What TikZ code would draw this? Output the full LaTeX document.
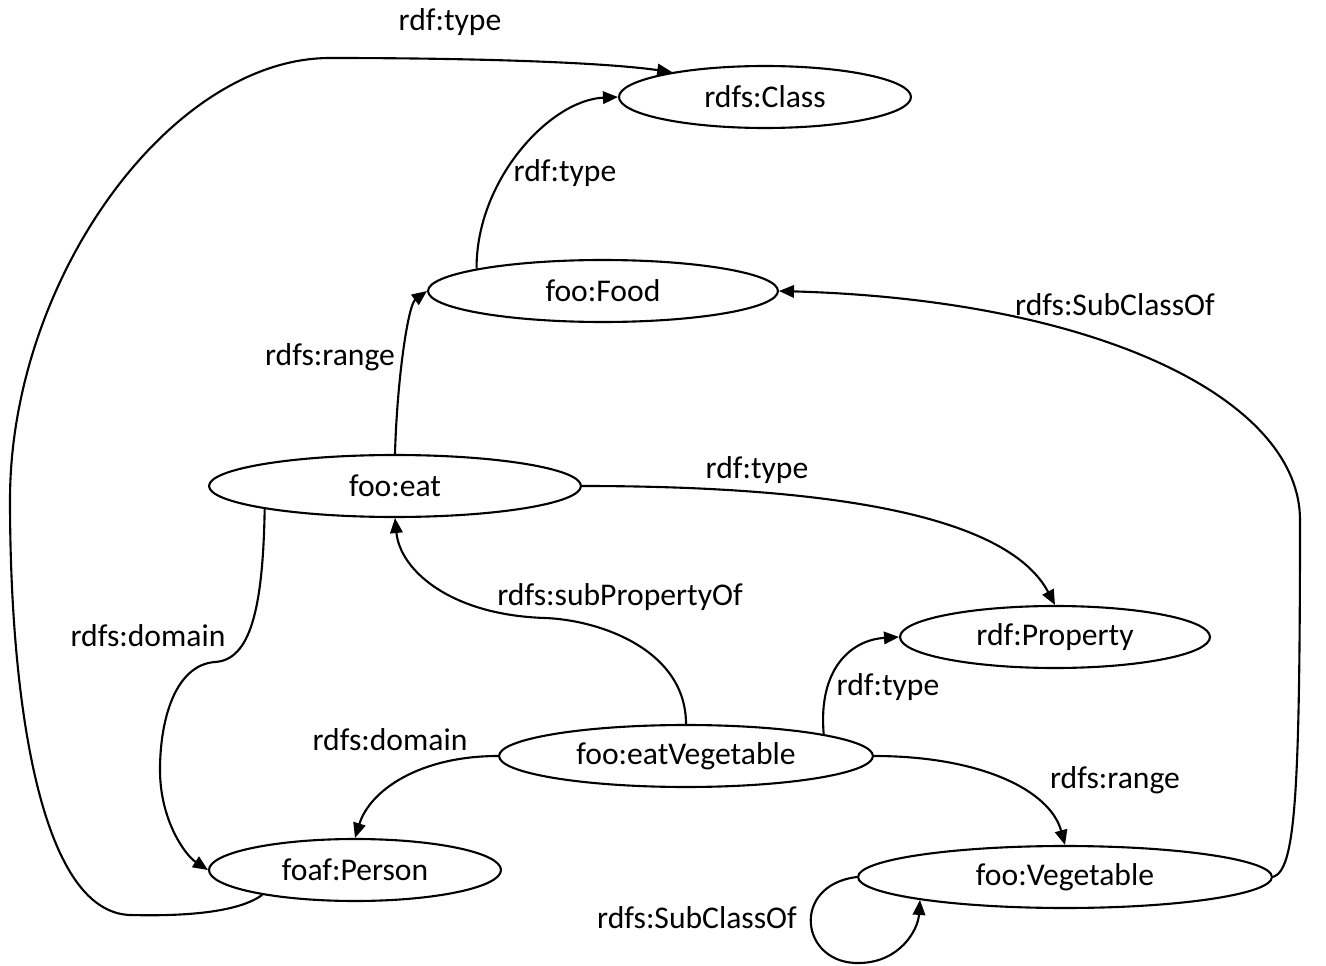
\documentclass[tikz,border=0pt]{standalone}
\usepackage{fontspec}
\setmainfont{Carlito}
\usetikzlibrary{shapes.geometric,arrows.meta}
\begin{document}
\begin{tikzpicture}
[x=0.02cm, y=-0.02cm, line width=1.2pt, >={Triangle[length=0.3cm,width=0.25cm]},
 res/.style={ellipse, draw, inner sep=0pt, minimum height=1.24cm, font=\fontsize{18}{21}\selectfont},
 lbl/.style={inner sep=1pt, font=\fontsize{18}{21}\selectfont}]
\useasboundingbox (0,0) rectangle (1326,966);
\node[res, minimum width=5.84cm] (RC) at (765,97) {rdfs:Class};
\node[res, minimum width=7cm] (FF) at (603,291) {foo:Food};
\node[res, minimum width=7.44cm] (FE) at (395,486) {foo:eat};
\node[res, minimum width=6.2cm] (RP) at (1055,637) {rdf:Property};
\node[res, minimum width=7.48cm] (FEV) at (686,756) {foo:eatVegetable};
\node[res, minimum width=5.84cm] (FP) at (355,870) {foaf:Person};
\node[res, minimum width=8.28cm] (FV) at (1065,877) {foo:Vegetable};

% labels
\node[lbl] (L1) at (450,22) {rdf:type};
\node[lbl] (L2) at (565,173) {rdf:type};
\node[lbl] (L3) at (330,357) {rdfs:range};
\node[lbl] (L4) at (757,470) {rdf:type};
\node[lbl] (L5) at (148,636) {rdfs:domain};
\node[lbl] (L6) at (620,597) {rdfs:subPropertyOf};
\node[lbl] (L7) at (888,687) {rdf:type};
\node[lbl] (L8) at (390,740) {rdfs:domain};
\node[lbl] (L9) at (1115,780) {rdfs:range};
\node[lbl] (L10) at (1115,305) {rdfs:SubClassOf};
\node[lbl] (L11) at (697,918) {rdfs:SubClassOf};

\draw[->] (FP.195) .. controls (235,915) and (170,916) .. (130,915)
  .. controls (40,912) and (10,700) .. (10,500)
  .. controls (10,280) and (170,58) .. (330,58)
  .. controls (470,58) and (600,62) .. (RC.165);
\draw[->] (FF.170) .. controls (476,180) and (550,100) .. (RC.west);
\draw[->] (FE.north) .. controls (397,380) and (408,305) .. (FF.west);
\draw[->] (FE.east) .. controls (850,486) and (1010,520) .. (RP.north);
\draw[->] (FE.190) .. controls (263,610) and (250,660) .. (215,662)
  .. controls (175,665) and (160,720) .. (160,770)
  .. controls (160,820) and (185,855) .. (FP.west);
\draw[->] (FEV.north) .. controls (686,650) and (600,620) .. (545,618)
  .. controls (450,615) and (400,570) .. (FE.south);
\draw[->] (FEV.9) .. controls (818,670) and (850,640) .. (RP.west);
\draw[->] (FEV.west) .. controls (420,756) and (370,790) .. (FP.north);
\draw[->] (FEV.east) .. controls (980,756) and (1050,790) .. (FV.north);
\draw[->] (FV.east) .. controls (1295,870) and (1300,800) .. (1300,520)
  .. controls (1300,400) and (1100,300) .. (FF.east);
\draw[->] (FV.west) .. controls (790,885) and (800,965) .. (860,963)
  .. controls (900,962) and (918,930) .. (FV.189);
\end{tikzpicture}
\end{document}
